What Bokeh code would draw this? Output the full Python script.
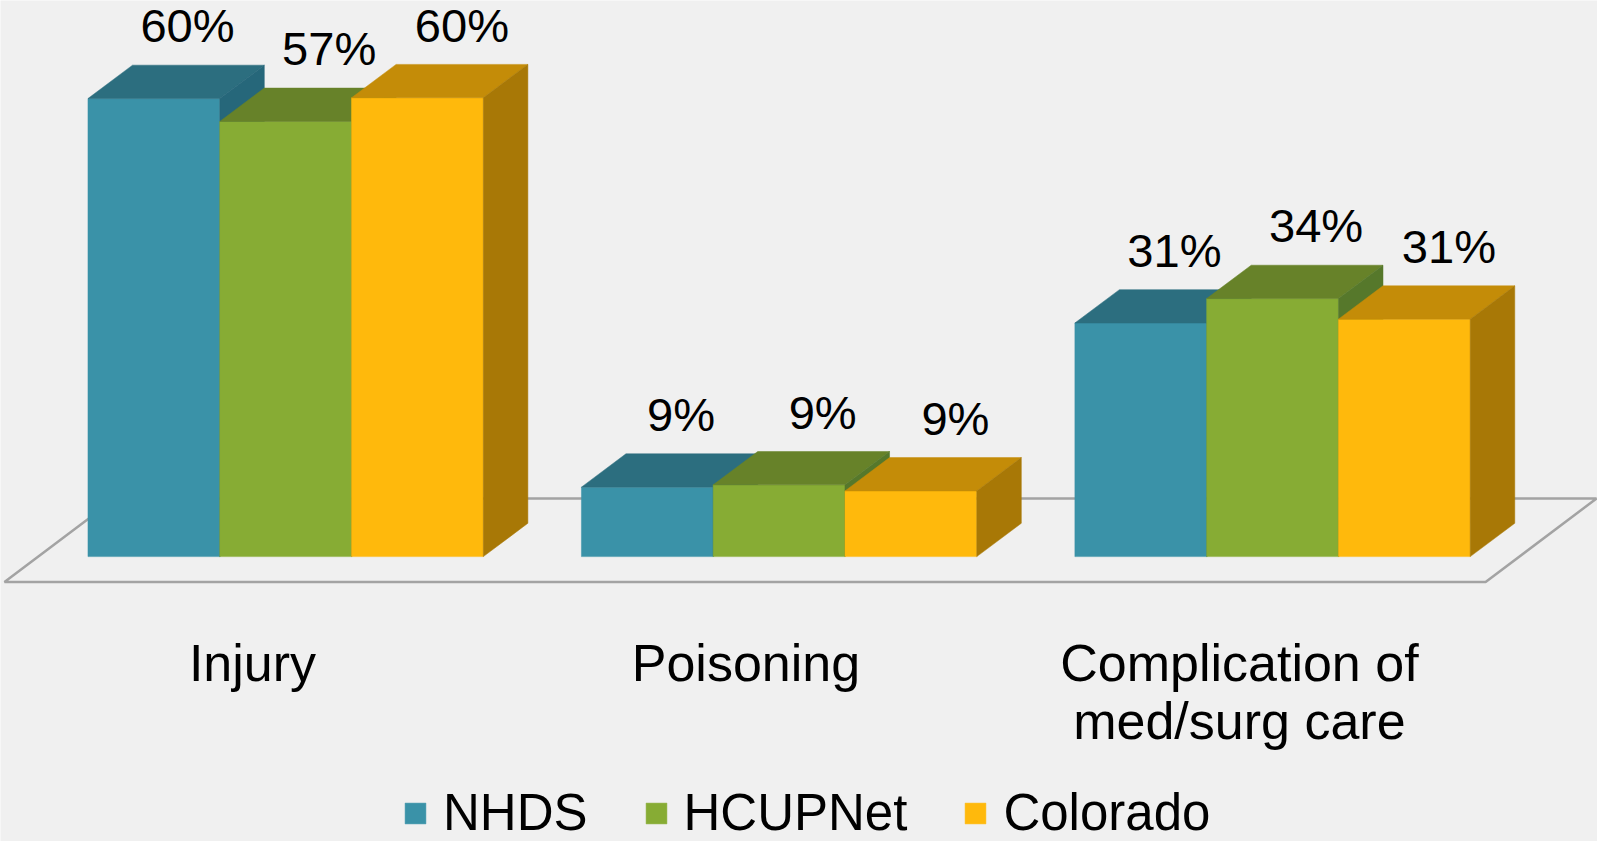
from bokeh.plotting import figure
from bokeh.models import Range1d, Legend, LegendItem
from bokeh.core.properties import value
from bokeh.embed import file_html
from bokeh.resources import INLINE

# ---------------- data ----------------
categories = ["Injury", "Poisoning", "Complication of\nmed/surg care"]
series = ["NHDS", "HCUPNet", "Colorado"]
nhds = [60.0, 9.1, 30.6]
hcupnet = [57.0, 9.4, 33.8]
colorado = [60.1, 8.6, 31.1]
value_labels = [["60%", "9%", "31%"], ["57%", "9%", "34%"], ["60%", "9%", "31%"]]

# ---------------- style ----------------
front_colors = ["#3A92A8", "#87AC34", "#FFB90C"]
top_colors = ["#2C6E7F", "#678229", "#C48C08"]
side_colors = ["#26677A", "#56782B", "#A87806"]
BG = "#F0F0F0"
FONT = "Liberation Sans"

# design space 1613 x 857, rendered into the largest figure that fits the window
REF_W, REF_H = 1613.0, 857.0
W, H = 1597, 841
SX = W / REF_W
SY = H / REF_H
SF = SY

PX_X = 498.4          # design px per category step
X0 = 288.0            # design px of first category center from left
PX_Y = 7.78           # design px per percent
Y0 = 566.7            # design px of baseline from top

BAR_W = 133.1 / PX_X
DX = 45.0 / PX_X
DY = 34.0 / PX_Y

p = figure(width=W, height=H, output_backend="svg", toolbar_location=None,
           x_range=Range1d(-X0 / PX_X, (REF_W - X0) / PX_X),
           y_range=Range1d(-(REF_H - Y0) / PX_Y, Y0 / PX_Y),
           x_axis_location=None, y_axis_location=None, min_border=0)
p.background_fill_color = BG
p.border_fill_color = BG
p.outline_line_color = None
p.xgrid.visible = False
p.ygrid.visible = False

# floor plane
fx = [v / PX_X for v in (-284.0, 1212.0, 1324.0, -172.0)]
fy = [v / PX_Y for v in (-25.8, -25.8, 59.2, 59.2)]
p.patch(fx, fy, fill_alpha=0, line_color="#A3A3A3", line_width=2.5)

items = []
all_vals = [nhds, hcupnet, colorado]
for j, (name, vals) in enumerate(zip(series, all_vals)):
    lefts = [i + (j - 1.5) * BAR_W for i in range(len(categories))]
    rights = [l + BAR_W for l in lefts]
    front = p.quad(left=lefts, right=rights, bottom=0, top=vals,
                   fill_color=front_colors[j], line_color=front_colors[j], line_width=0.5)
    top_xs = [[l, r, r + DX, l + DX] for l, r in zip(lefts, rights)]
    top_ys = [[v, v, v + DY, v + DY] for v in vals]
    p.patches(top_xs, top_ys, fill_color=top_colors[j], line_color=top_colors[j], line_width=0.5)
    side_xs = [[r, r, r + DX, r + DX] for r in rights]
    side_ys = [[0, v, v + DY, DY] for v in vals]
    p.patches(side_xs, side_ys, fill_color=side_colors[j], line_color=side_colors[j], line_width=0.5)
    items.append(LegendItem(label=name, renderers=[front]))

# value labels
label_dx = [34, 44, 45]
for j, vals in enumerate(all_vals):
    centers = [i + (j - 1.0) * BAR_W for i in range(len(categories))]
    p.text(x=centers, y=vals, text=value_labels[j], x_offset=label_dx[j] * SX, y_offset=-74 * SY,
           text_font=value(FONT), text_font_size=f"{48 * SF:.1f}px", text_color="black",
           text_align="center", text_baseline="alphabetic")

# category labels
for i, cat in enumerate(categories):
    for k, line in enumerate(cat.split("\n")):
        p.text(x=[i], y=[0], text=[line], x_offset=-33.5 * SX, y_offset=(108 + 59 * k) * SY,
               text_font=value(FONT), text_font_size=f"{53 * SF:.1f}px", text_color="black",
               text_align="center", text_baseline="alphabetic")

legend = Legend(items=items, orientation="horizontal", location=(402, -1),
                glyph_width=int(round(27 * SF)), glyph_height=int(round(27 * SF)),
                label_standoff=int(round(15 * SX)), spacing=int(round(56 * SX)),
                padding=0, margin=0, border_line_alpha=0, background_fill_alpha=0,
                label_text_font=FONT, label_text_font_size=f"{52 * SF:.1f}px",
                label_text_color="black")
p.add_layout(legend)

open("out.html", "w").write(file_html(p, INLINE))
